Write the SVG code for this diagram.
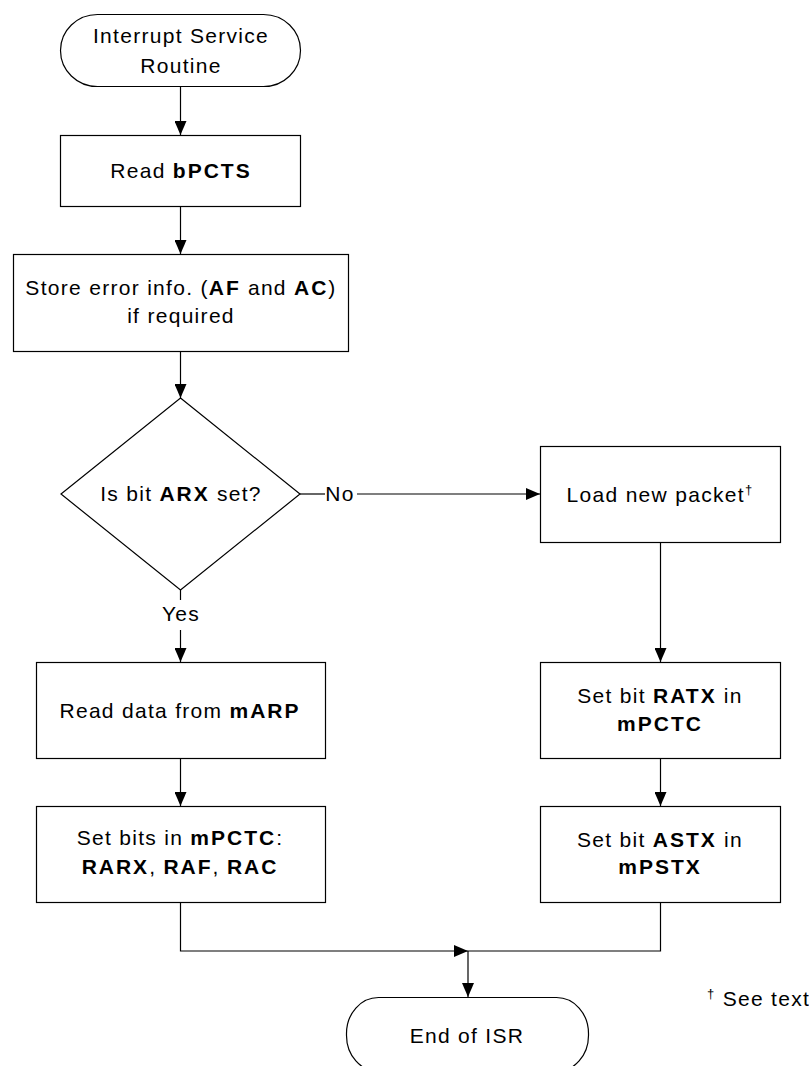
<svg xmlns="http://www.w3.org/2000/svg" width="809" height="1066" viewBox="0 0 809 1066">
<style>
.s{fill:#fff;stroke:#000;stroke-width:1.2}
.c{fill:none;stroke:#000;stroke-width:1.2}
text{font-family:"Liberation Sans",Arial,sans-serif;font-size:21px;fill:#000;letter-spacing:1.3px}
.m{text-anchor:middle}
.b{font-weight:bold;letter-spacing:2px}
</style>
<defs>
<marker id="ah" markerUnits="userSpaceOnUse" markerWidth="14" markerHeight="12" refX="14" refY="6" orient="auto">
<path d="M0,0 L14,6 L0,12 Z" fill="#000"/>
</marker>
</defs>
<rect width="809" height="1066" fill="#fff"/>
<g id="connectors">
<line class="c" x1="180.5" y1="87" x2="180.5" y2="135" marker-end="url(#ah)"/>
<line class="c" x1="180.5" y1="206" x2="180.5" y2="254" marker-end="url(#ah)"/>
<line class="c" x1="180.5" y1="352" x2="180.5" y2="398" marker-end="url(#ah)"/>
<line class="c" x1="300" y1="494" x2="325" y2="494"/>
<line class="c" x1="357" y1="494" x2="540" y2="494" marker-end="url(#ah)"/>
<line class="c" x1="180.5" y1="590" x2="180.5" y2="600"/>
<line class="c" x1="180.5" y1="630" x2="180.5" y2="662" marker-end="url(#ah)"/>
<line class="c" x1="660.5" y1="542" x2="660.5" y2="662" marker-end="url(#ah)"/>
<line class="c" x1="180.5" y1="758" x2="180.5" y2="806" marker-end="url(#ah)"/>
<line class="c" x1="660.5" y1="758" x2="660.5" y2="806" marker-end="url(#ah)"/>
<polyline class="c" points="180.5,902 180.5,951 468,951" marker-end="url(#ah)"/>
<polyline class="c" points="660.5,902 660.5,951 468,951"/>
<line class="c" x1="468" y1="951" x2="468" y2="997" marker-end="url(#ah)"/>
<text class="m" x="340" y="501">No</text>
<text class="m" x="181" y="621">Yes</text>
</g>
<g id="start">
<rect class="s" x="60.5" y="14.5" width="240" height="72" rx="37" ry="36"/>
<text class="m" x="181" y="43">Interrupt Service</text>
<text class="m" x="181" y="73">Routine</text>
</g>
<g id="readPCTS">
<rect class="s" x="60.5" y="135.5" width="240" height="71"/>
<text class="m" x="181" y="178">Read <tspan class="b">bPCTS</tspan></text>
</g>
<g id="storeError">
<rect class="s" x="13.5" y="254.5" width="335" height="97"/>
<text class="m" x="181" y="295">Store error info. (<tspan class="b">AF</tspan> and <tspan class="b">AC</tspan>)</text>
<text class="m" x="181" y="323">if required</text>
</g>
<g id="decision">
<polygon class="s" points="180.5,398 300,494 180.5,590 61,494"/>
<text class="m" x="181" y="501">Is bit <tspan class="b">ARX</tspan> set?</text>
</g>
<g id="loadPacket">
<rect class="s" x="540.5" y="446.5" width="240" height="96"/>
<text class="m" x="660" y="502">Load new packet<tspan font-size="13" dy="-8">†</tspan></text>
</g>
<g id="readData">
<rect class="s" x="36.5" y="662.5" width="289" height="96"/>
<text class="m" x="180" y="718">Read data from <tspan class="b">mARP</tspan></text>
</g>
<g id="setBits">
<rect class="s" x="36.5" y="806.5" width="289" height="96"/>
<text class="m" x="180" y="845">Set bits in <tspan class="b">mPCTC</tspan>:</text>
<text class="m" x="180" y="874"><tspan class="b">RARX</tspan>, <tspan class="b">RAF</tspan>, <tspan class="b">RAC</tspan></text>
</g>
<g id="setRATX">
<rect class="s" x="540.5" y="662.5" width="240" height="96"/>
<text class="m" x="660" y="703">Set bit <tspan class="b">RATX</tspan> in</text>
<text class="m b" x="660" y="731">mPCTC</text>
</g>
<g id="setASTX">
<rect class="s" x="540.5" y="806.5" width="240" height="96"/>
<text class="m" x="660" y="847">Set bit <tspan class="b">ASTX</tspan> in</text>
<text class="m b" x="660" y="874">mPSTX</text>
</g>
<g id="end">
<rect class="s" x="346.5" y="997.5" width="242" height="74" rx="32" ry="36"/>
<text class="m" x="467" y="1043">End of ISR</text>
</g>
<g id="footnote">
<text x="707" y="1006"><tspan font-size="13" dy="-8">†</tspan><tspan dy="8"> See text</tspan></text>
</g>
</svg>
